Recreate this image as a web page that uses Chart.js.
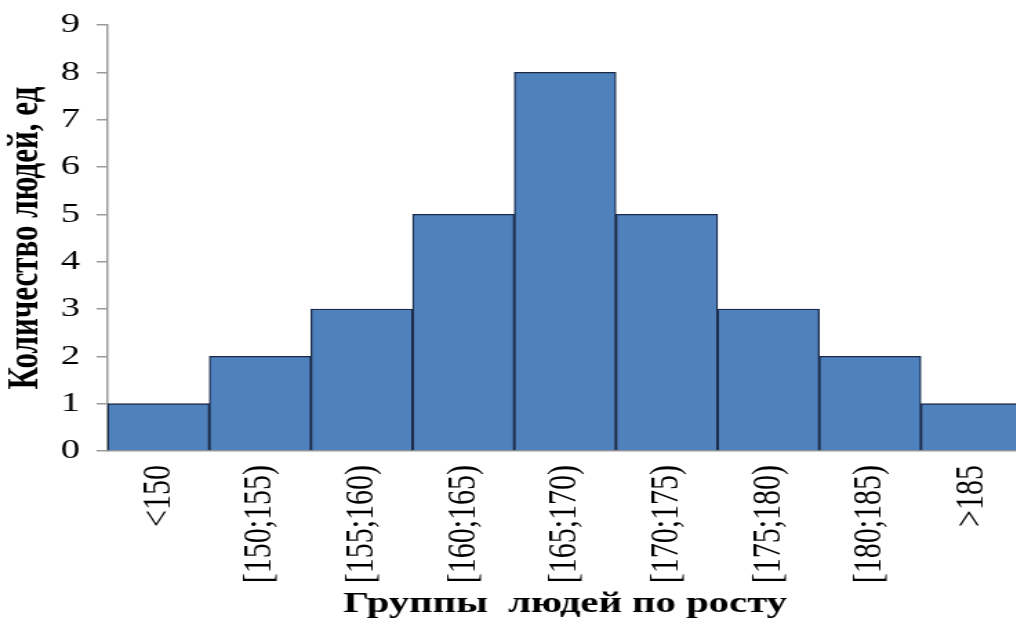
<!DOCTYPE html>
<html>
<head>
<meta charset="utf-8">
<script src="https://cdn.jsdelivr.net/npm/chart.js@4/dist/chart.umd.min.js"></script>
<style>
html,body{margin:0;padding:0;background:#fff;overflow:hidden;width:1016px;height:622px;}
#wrap{position:absolute;left:0;top:0;transform:scaleX(1.38);transform-origin:0 0;}
canvas{display:block;}
</style>
</head>
<body>
<div id="wrap"><canvas id="c" width="741" height="622"></canvas></div>
<script>
const categories = ['<150','[150;155)','[155;160)','[160;165)','[165;170)','[170;175)','[175;180)','[180;185)','>185'];
const counts = [1, 2, 3, 5, 8, 5, 3, 2, 1];
const yTitle = 'Количество людей, ед';
const xTitle = 'Группы  людей по росту';

const serif = "'Liberation Serif', 'Times New Roman', serif";

new Chart(document.getElementById('c'), {
  type: 'bar',
  data: {
    labels: categories,
    datasets: [{
      data: counts,
      backgroundColor: '#4f81bd',
      borderColor: '#1b2a46',
      borderWidth: 1.3,
      barPercentage: 1,
      categoryPercentage: 1
    }]
  },
  options: {
    responsive: false,
    devicePixelRatio: 1,
    animation: false,
    layout: { padding: { top: 25, right: 0, left: 0, bottom: 0 } },
    plugins: { legend: { display: false }, tooltip: { enabled: false } },
    scales: {
      x: {
        grid: { display: true, drawOnChartArea: false, drawTicks: false },
        border: { display: true, color: '#9a9a9a', width: 1.5 },
        ticks: {
          color: '#000',
          font: { family: serif, size: 30 },
          minRotation: 90, maxRotation: 90,
          padding: 14,
          autoSkip: false
        },
        title: {
          display: true, text: xTitle, color: '#000',
          font: { family: serif, size: 29.5, weight: 'bold' },
          padding: { top: 0, bottom: 0 }
        },
        afterFit(s) { s.height = 171; s.paddingRight = 0; s.paddingLeft = 0; }
      },
      y: {
        min: 0, max: 9,
        grid: { display: true, drawOnChartArea: false, drawTicks: true, tickLength: 8, color: '#9a9a9a', lineWidth: 1.5 },
        border: { display: true, color: '#9a9a9a', width: 1.5 },
        ticks: {
          stepSize: 1,
          color: '#000',
          font: { family: serif, size: 28 },
          padding: 12
        },
        title: {
          display: true, text: yTitle, color: '#000',
          font: { family: serif, size: 31, weight: 'bold' },
          padding: { top: 0, bottom: 0 }
        },
        afterFit(s) { s.width = 78; s.paddingTop = 0; s.paddingBottom = 0; }
      }
    }
  }
});
</script>
</body>
</html>
